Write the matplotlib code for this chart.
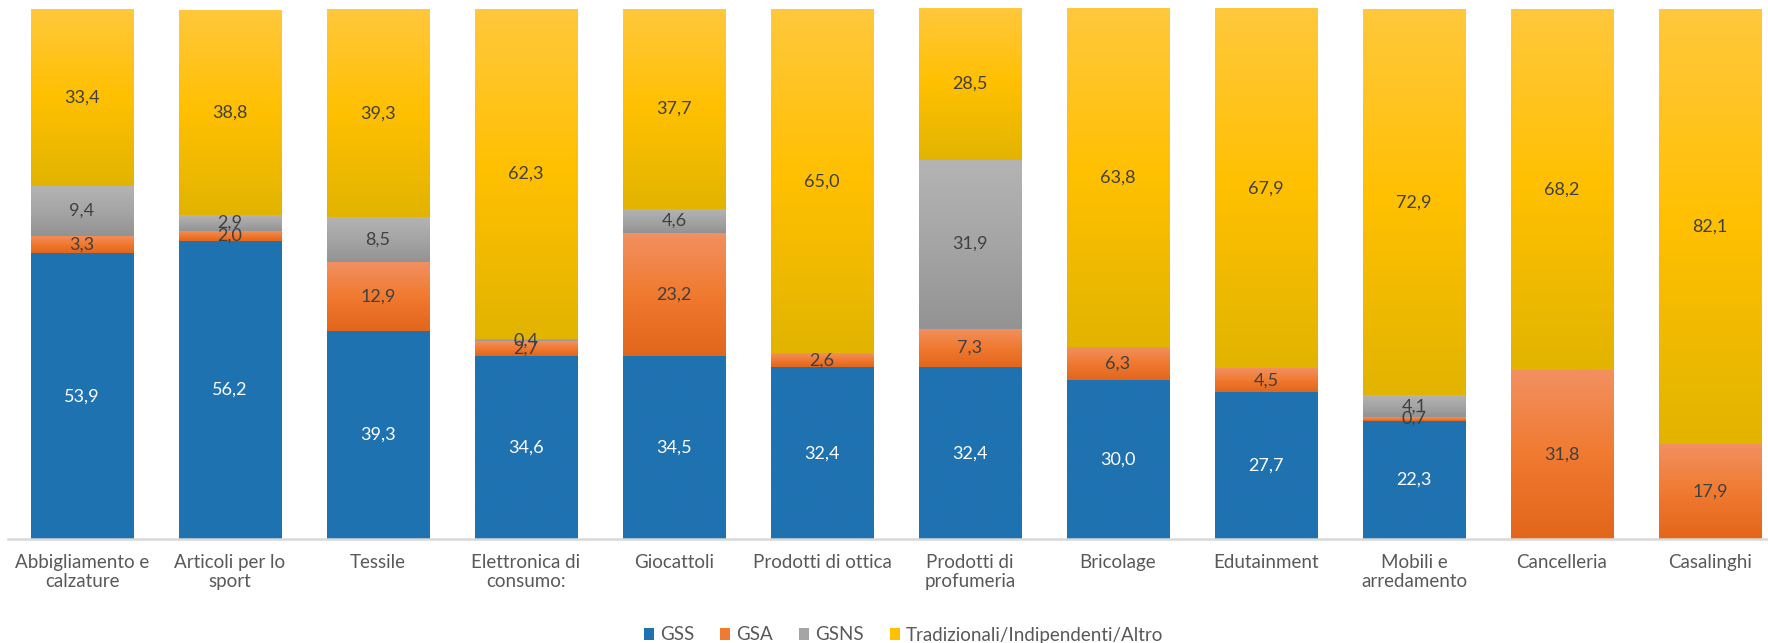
import numpy as np
import matplotlib.pyplot as plt
from matplotlib.colors import LinearSegmentedColormap
from matplotlib.patches import Patch

plt.rcParams['font.family'] = ['Lato', 'DejaVu Sans']

categories = ["Abbigliamento e\ncalzature", "Articoli per lo\nsport", "Tessile",
              "Elettronica di\nconsumo:", "Giocattoli", "Prodotti di ottica",
              "Prodotti di\nprofumeria", "Bricolage", "Edutainment",
              "Mobili e\narredamento", "Cancelleria", "Casalinghi"]
gss = [53.9, 56.2, 39.3, 34.6, 34.5, 32.4, 32.4, 30.0, 27.7, 22.3, 0, 0]
gsa = [3.3, 2.0, 12.9, 2.7, 23.2, 2.6, 7.3, 6.3, 4.5, 0.7, 31.8, 17.9]
gsns = [9.4, 2.9, 8.5, 0.4, 4.6, 0, 31.9, 0, 0, 4.1, 0, 0]
altro = [33.4, 38.8, 39.3, 62.3, 37.7, 65.0, 28.5, 63.8, 67.9, 72.9, 68.2, 82.1]
series_names = ["GSS", "GSA", "GSNS", "Tradizionali/Indipendenti/Altro"]

# (top, middle, bottom) colours of each series; blue stays flat
grads = [("#1F72B0", "#1F72B0", "#1F72B0"),
         ("#F29060", "#F07A30", "#E2661C"),
         ("#B4B4B4", "#A5A5A5", "#939393"),
         ("#FFC83C", "#FFC000", "#E2B400")]
label_colors = ["white", "#404040", "#404040", "#404040"]

fig = plt.figure(figsize=(17.68, 6.43), dpi=100)
ax = fig.add_axes([8 / 1768, 1 - 539 / 643, 1776 / 1768, 530 / 643])

x = np.arange(len(categories))
bottom = np.zeros(len(categories))
for vals, g, lc in zip([gss, gsa, gsns, altro], grads, label_colors):
    vals = np.array(vals)
    bars = ax.bar(x, vals, width=0.69, bottom=bottom, color=g[1], linewidth=0, zorder=2)
    cmap = LinearSegmentedColormap.from_list("g", [g[2], g[1], g[0]])
    for rect, v in zip(bars, vals):
        if v <= 0:
            continue
        x0, y0 = rect.get_x(), rect.get_y()
        w, h = rect.get_width(), rect.get_height()
        im = ax.imshow(np.linspace(0, 1, 64).reshape(-1, 1), cmap=cmap, aspect="auto",
                       origin="lower", extent=[x0, x0 + w, y0, y0 + h], zorder=2.5)
        im.set_clip_path(rect)
        ax.text(x0 + w / 2, y0 + h / 2, f"{v:.1f}".replace(".", ","), ha="center",
                va="center", color=lc, fontsize=13, zorder=3)
    bottom += vals

ax.set_xlim(-0.5, len(categories) - 0.5)
ax.set_ylim(0, 100)
ax.set_yticks([])
ax.set_xticks(x)
ax.set_xticklabels(categories, fontsize=13.5, color="#595959", linespacing=1.12)
ax.tick_params(axis="x", length=0, pad=11)
for s in ["top", "right", "left"]:
    ax.spines[s].set_visible(False)
ax.spines["bottom"].set_color("#D9D9D9")
ax.spines["bottom"].set_linewidth(1.8)
ax.spines["bottom"].set_zorder(4)

handles = [Patch(facecolor=g[1], edgecolor="none") for g in grads]
fig.legend(handles, series_names, loc="center", bbox_to_anchor=(0.511, 1 - 635 / 643),
           ncol=4, frameon=False, fontsize=13.5, labelcolor="#595959",
           handlelength=0.55, handleheight=0.55, handletextpad=0.3, columnspacing=1.4)

fig.savefig("out.png", dpi=100)
